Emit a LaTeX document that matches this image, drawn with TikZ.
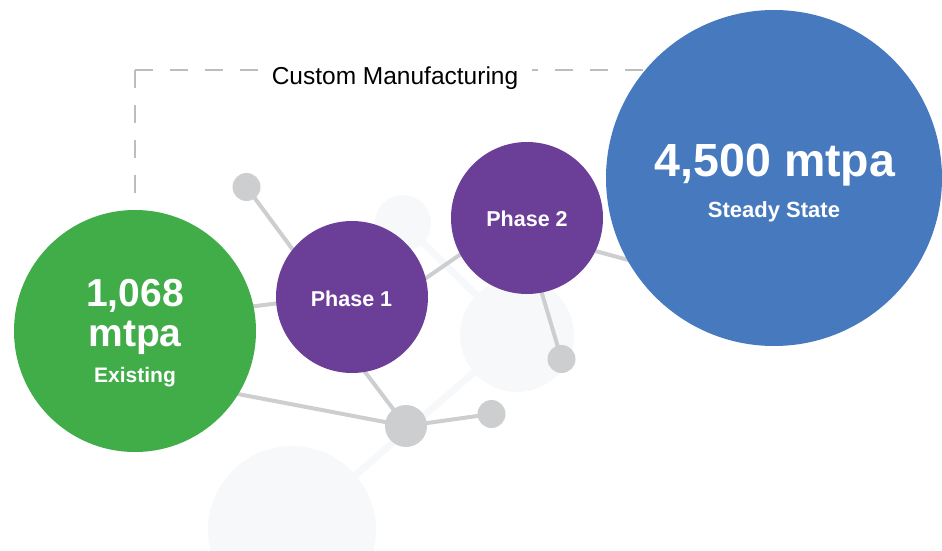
\documentclass[tikz,border=0pt]{standalone}
\usepackage{fontspec}
\setmainfont{Liberation Sans}
\definecolor{cgreen}{HTML}{41AD49}
\definecolor{cpurple}{HTML}{6B3F98}
\definecolor{cblue}{HTML}{4679BD}
\definecolor{cgray}{HTML}{CDCED0}
\definecolor{clight}{HTML}{F7F8FA}
\definecolor{cdash}{HTML}{BDBDBD}
\tikzset{
  bubble/.style={circle, inner sep=0pt, outer sep=0pt},
  dot/.style={circle, fill=cgray, inner sep=0pt, outer sep=0pt},
  ghost/.style={circle, fill=clight, inner sep=0pt, outer sep=0pt},
  link/.style={draw=cgray, line width=4pt},
  ghostlink/.style={draw=clight, line width=7pt},
  dashline/.style={draw=cdash, line width=2.5pt, dash pattern=on 18pt off 17pt},
  label/.style={text=white, font=\bfseries, anchor=base, inner sep=0pt},
}
\newcommand{\fsz}[1]{\fontsize{#1}{#1}\selectfont}
\begin{document}
\begin{tikzpicture}[x=1pt, y=-1pt]
\useasboundingbox (0,0) rectangle (942,551);
\clip (0,0) rectangle (942,551);
% background ghost network
\node[ghost, minimum size=56pt] (gh1) at (403,223) {};
\node[ghost, minimum size=114pt] (gh2) at (517,335) {};
\node[ghost, minimum size=168pt] (gh3) at (292,530) {};
\draw[ghostlink] (gh1.center) -- (gh2.center);
\draw[ghostlink] (gh2.center) -- (gh3.center);
% dashed bracket
\coordinate (dA) at (135,215);
\coordinate (dB) at (135,70);
\coordinate (dC) at (660,70);
\draw[dashline] (dB) -- (dA);
\draw[dashline] (dB) -- (dC);
\node[fill=white, inner xsep=14pt, inner ysep=4pt, anchor=base, font=\fsz{24.5}] (cm) at (395,84.5) {Custom Manufacturing};
% hidden link ends
\coordinate (e1) at (200,313);
\coordinate (e2) at (320,298);
\coordinate (e3) at (400,296);
\coordinate (e4) at (490,234);
\coordinate (e5) at (340,339);
\coordinate (e6) at (180,383);
\coordinate (e7) at (330,300);
\coordinate (e8) at (526,240);
\coordinate (e9) at (540,236);
\coordinate (e10) at (680,274);
% gray dots
\node[dot, minimum size=28pt] (s1) at (246.5,187) {};
\node[dot, minimum size=28pt] (s2) at (561.5,359) {};
\node[dot, minimum size=42pt] (bg) at (406,426) {};
\node[dot, minimum size=28pt] (s3) at (491.5,414) {};
% links
\draw[link] (e1) -- (e2);
\draw[link] (e3) -- (e4);
\draw[link] (e5) -- (bg.center);
\draw[link] (e6) -- (bg.center);
\draw[link] (bg.center) -- (s3.center);
\draw[link] (s1.center) -- (e7);
\draw[link] (e8) -- (s2.center);
\draw[link] (e9) -- (e10);
% main bubbles
\node[bubble, fill=cgreen, minimum size=242pt] (green) at (135,331) {};
\node[bubble, fill=cpurple, minimum size=152pt] (ph1) at (352,297) {};
\node[bubble, fill=cpurple, minimum size=152pt] (ph2) at (527,218) {};
\node[bubble, fill=cblue, minimum size=336pt] (blue) at (774,178) {};
% texts
\node[label, font=\bfseries\fsz{39}] (t1) at (135,306.5) {1,068};
\node[label, font=\bfseries\fsz{39}] (t2) at (135,346.5) {mtpa};
\node[label, font=\bfseries\fsz{21}] (t3) at (135,382.5) {Existing};
\node[label, font=\bfseries\fsz{21.5}] (t4) at (351.5,306.5) {Phase 1};
\node[label, font=\bfseries\fsz{21.5}] (t5) at (527,226.5) {Phase 2};
\node[label, font=\bfseries\fsz{46.5}] (t6) at (775,176.5) {4,500 mtpa};
\node[label, font=\bfseries\fsz{22}] (t7) at (774,217.5) {Steady State};
\end{tikzpicture}
\end{document}
